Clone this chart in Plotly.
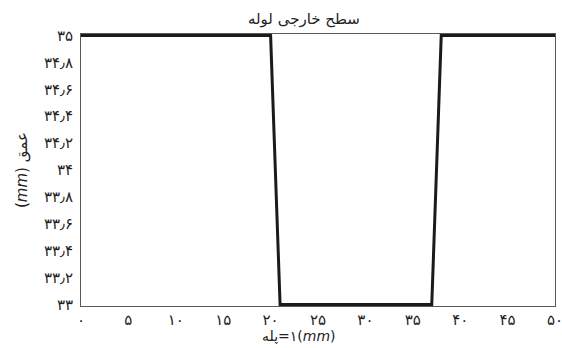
import plotly.graph_objects as go

# Outer surface profile of the pipe, sampled every 1 mm
step_mm = list(range(0, 51))
depth_mm = [35.0] * 21 + [33.0] * 17 + [35.0] * 13

x_tick_vals = list(range(0, 51, 5))
x_tick_text = ["۰", "۵", "۱۰", "۱۵", "۲۰", "۲۵", "۳۰", "۳۵", "۴۰", "۴۵", "۵۰"]
y_tick_vals = [33.0, 33.2, 33.4, 33.6, 33.8, 34.0, 34.2, 34.4, 34.6, 34.8, 35.0]
y_tick_text = ["۳۳", "۳۳٫۲", "۳۳٫۴", "۳۳٫۶", "۳۳٫۸", "۳۴", "۳۴٫۲", "۳۴٫۴", "۳۴٫۶", "۳۴٫۸", "۳۵"]

title_text = "سطح خارجی لوله"
x_title = "پله\u200e=\u200e۱(<i>mm</i>)"
y_title = "(<i>mm</i>) عمق"

FONT = "DejaVu Sans"
pad = 0.011  # keeps the thick profile line fully visible at the range edges

fig = go.Figure()
fig.add_trace(go.Scatter(
    x=step_mm, y=depth_mm, mode="lines",
    line=dict(color="#1a1a1a", width=3),
    showlegend=False, hoverinfo="skip",
))

axis_common = dict(
    showgrid=False, zeroline=False, showline=True, mirror=True,
    linecolor="#5a5a5a", linewidth=1, ticks="",
    tickfont=dict(family=FONT, size=15, color="#222"),
    ticklabeloverflow="allow", automargin=False,
)

fig.update_xaxes(range=[0, 50], tickvals=x_tick_vals, ticktext=x_tick_text,
                 ticklabelstandoff=0, **axis_common)
fig.update_yaxes(range=[33 - pad, 35 + pad], tickvals=y_tick_vals, ticktext=y_tick_text,
                 ticklabelstandoff=4, **axis_common)

fig.update_layout(
    width=562, height=348,
    margin=dict(l=81, r=7, t=34, b=42),
    paper_bgcolor="white", plot_bgcolor="white",
    font=dict(family=FONT, color="#222"),
    annotations=[
        dict(text=title_text, xref="paper", yref="paper", x=0.47, y=1.0,
             yshift=4, xanchor="center", yanchor="bottom", showarrow=False,
             font=dict(family=FONT, size=15, color="#222")),
        dict(text=x_title, xref="paper", yref="paper", x=0.46, y=0,
             yshift=-20, xanchor="center", yanchor="top", showarrow=False,
             font=dict(family=FONT, size=14, color="#222")),
        dict(text=y_title, xref="paper", yref="paper", x=0, y=0.5,
             xshift=-48, xanchor="right", yanchor="middle", textangle=-90,
             showarrow=False, font=dict(family=FONT, size=15, color="#222")),
    ],
)

fig.write_html("out.html")
